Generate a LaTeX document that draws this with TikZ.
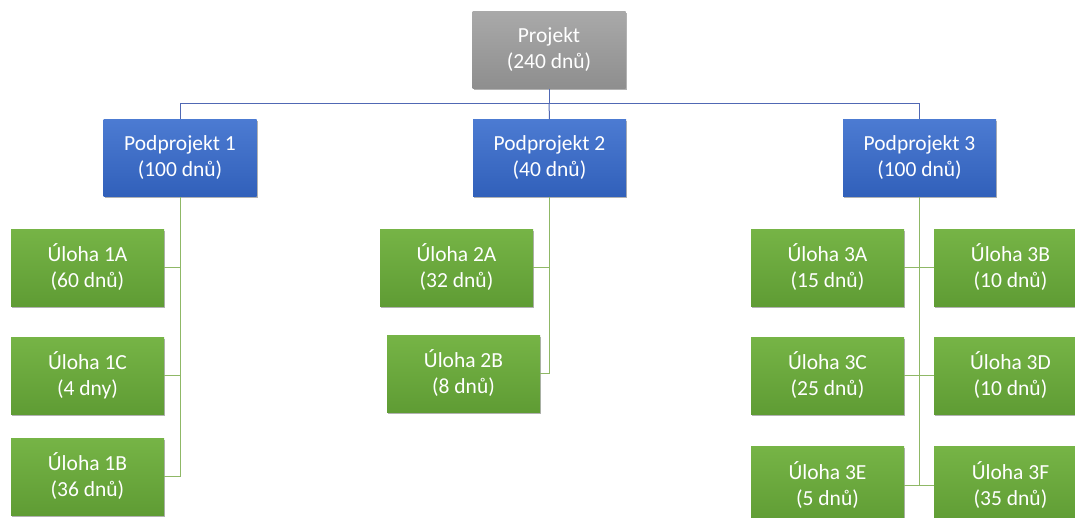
\documentclass[tikz,border=0pt]{standalone}
\usepackage{fontspec}
\setmainfont{Carlito}
\usetikzlibrary{shadows}
\definecolor{grayT}{HTML}{A9A9A9}
\definecolor{grayB}{HTML}{8E8E8E}
\definecolor{blueT}{HTML}{4C7BD2}
\definecolor{blueB}{HTML}{3160BA}
\definecolor{greenT}{HTML}{76B446}
\definecolor{greenB}{HTML}{5F9C34}
\definecolor{blueline}{HTML}{5068B4}
\definecolor{greenline}{HTML}{8FB866}
\begin{document}
\begin{tikzpicture}[x=1pt,y=-1pt,
  box/.style={minimum width=153pt, minimum height=77pt, text=white, align=center,
    font=\fontsize{21.5}{26}\selectfont, inner sep=0pt, shading=axis, shading angle=0,
    drop shadow={shadow xshift=1pt, shadow yshift=-1.5pt, opacity=0.3, fill=black}},
  graybox/.style={box, top color=grayT, bottom color=grayB},
  bluebox/.style={box, top color=blueT, bottom color=blueB},
  greenbox/.style={box, top color=greenT, bottom color=greenB},
  bl/.style={draw=blueline, line width=1pt},
  gl/.style={draw=greenline, line width=1pt}]
\useasboundingbox (0,0) rectangle (1075,517);
\clip (0,0) rectangle (1075,517);
\coordinate (busL) at (180,103);
\coordinate (busR) at (919.5,103);
\node[graybox] (proj) at (549,50) {Projekt\\(240 dnů)};
\node[bluebox] (p1) at (180,158) {Podprojekt 1\\(100 dnů)};
\node[bluebox] (p2) at (549.5,158) {Podprojekt 2\\(40 dnů)};
\node[bluebox] (p3) at (919.5,158) {Podprojekt 3\\(100 dnů)};
\node[greenbox] (t1a) at (87.5,267.5) {Úloha 1A\\(60 dnů)};
\node[greenbox] (t1c) at (87.5,375.5) {Úloha 1C\\(4 dny)};
\node[greenbox] (t1b) at (87.5,476.5) {Úloha 1B\\(36 dnů)};
\node[greenbox] (t2a) at (456.5,267.5) {Úloha 2A\\(32 dnů)};
\node[greenbox] (t2b) at (463.5,373.5) {Úloha 2B\\(8 dnů)};
\node[greenbox] (t3a) at (827.5,267.5) {Úloha 3A\\(15 dnů)};
\node[greenbox] (t3b) at (1010.5,267.5) {Úloha 3B\\(10 dnů)};
\node[greenbox] (t3c) at (827.5,375.5) {Úloha 3C\\(25 dnů)};
\node[greenbox] (t3d) at (1010.5,375.5) {Úloha 3D\\(10 dnů)};
\node[greenbox] (t3e) at (827.5,485) {Úloha 3E\\(5 dnů)};
\node[greenbox] (t3f) at (1010.5,485) {Úloha 3F\\(35 dnů)};
% blue connectors
\draw[bl] (proj.south) -- (proj.south |- busL);
\draw[bl] (busL) -- (busR);
\draw[bl] (busL) -- (p1.north);
\draw[bl] (proj.south |- busL) -- (p2.north);
\draw[bl] (busR) -- (p3.north);
% green connectors
\draw[gl] (p1.south) |- (t1b.east);
\draw[gl] (t1a.east) -- (t1a.east -| p1.south);
\draw[gl] (t1c.east) -- (t1c.east -| p1.south);
\draw[gl] (p2.south) |- (t2b.east);
\draw[gl] (t2a.east) -- (t2a.east -| p2.south);
\draw[gl] (p3.south) -- (p3.south |- t3e.east);
\draw[gl] (t3a.east) -- (t3b.west);
\draw[gl] (t3c.east) -- (t3d.west);
\draw[gl] (t3e.east) -- (t3f.west);
\end{tikzpicture}
\end{document}
